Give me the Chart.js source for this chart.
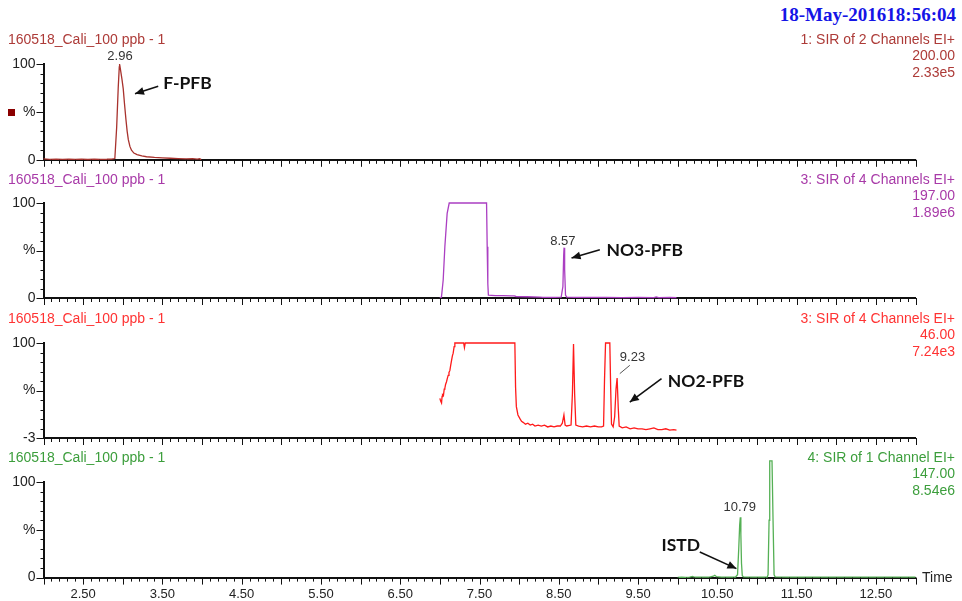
<!DOCTYPE html>
<html>
<head>
<meta charset="utf-8">
<script src="https://cdn.jsdelivr.net/npm/chart.js@4.4.0/dist/chart.umd.min.js"></script>
<style>
body { margin:0; background:#fff; width:962px; height:601px; overflow:hidden; position:relative; font-family:"Liberation Sans", Arial, sans-serif; }
.panel { position:absolute; left:0; width:962px; }
.txt { position:absolute; font-size:14px; line-height:16.5px; white-space:nowrap; }
#stamp { position:absolute; right:6px; top:4px; font:bold 19px "Liberation Serif", serif; color:#1414e6; }
</style>
</head>
<body>
<div id="stamp">18-May-201618:56:04</div>
<script>
// retention time (min) / intensity (%) for each SIR channel
const rt1 = [2.00,2.08,2.16,2.24,2.32,2.40,2.48,2.56,2.64,2.72,2.80,2.86,2.90,2.923,2.943,2.956,2.96,2.975,2.99,3.006,3.02,3.04,3.055,3.07,3.09,3.11,3.14,3.18,3.24,3.30,3.40,3.50,3.60,3.70,3.80,3.88,3.94,3.97,3.99];
const int1 = [0.9,0.5,0.8,0.4,0.7,0.5,0.6,0.3,0.7,0.5,0.6,0.8,1.3,34,76,97,100,92,84,74,60,42,30,21,14,10,7,5.5,4,3.2,2.5,2,1.6,1.3,1.0,1.3,0.8,1.2,0.2];

const rt2 = [7.00,7.02,7.042,7.063,7.092,7.118,7.30,7.50,7.589,7.597,7.605,7.612,7.70,7.80,7.90,7.94,7.96,8.10,8.26,8.30,8.45,8.53,8.552,8.562,8.567,8.574,8.585,8.60,8.70,8.90,9.10,9.30,9.50,9.70,9.73,9.76,9.90,9.985];
const int2 = [0,1,19,54,89,100,100,100,100,54,15,3,2.5,2.4,2.3,2.2,1.6,1.3,1.0,0.7,0.6,0.8,12,45,53,30,3,1,0.7,0.6,0.7,0.5,0.6,0.5,1.2,0.5,0.6,0.3];

const rt3 = [7.000,7.010,7.021,7.028,7.034,7.045,7.055,7.063,7.072,7.084,7.095,7.105,7.115,7.126,7.137,7.147,7.158,7.168,7.180,7.189,7.30,7.31,7.32,7.946,7.955,7.965,7.985,8.01,8.03,8.05,8.08,8.11,8.14,8.17,8.20,8.24,8.28,8.32,8.36,8.40,8.44,8.48,8.52,8.545,8.565,8.58,8.60,8.655,8.672,8.686,8.700,8.715,8.75,8.80,8.85,8.90,8.95,9.00,9.04,9.065,9.077,9.09,9.144,9.155,9.165,9.186,9.205,9.222,9.236,9.250,9.262,9.30,9.35,9.40,9.45,9.50,9.55,9.60,9.65,9.70,9.75,9.80,9.85,9.90,9.95,9.985];
const int3 = [40,37,35,42,44,43,50,51,55,58,62,65,68,70,76,81,86,89,96,100,100,95,100,100,52,31,22,18,15,14,12,13,11,12,10,11,10,11,9,10,9,10,10,13,22,11,10,11,45,99,45,11,10,9,10,9,10,9,9,10,60,100,100,50,12,9,20,50,62,30,10,8,9,7,8,7,7,6,7,8,6,6,7,5.5,6,5.5];

const rt4 = [10.00,10.05,10.10,10.15,10.19,10.21,10.30,10.40,10.45,10.468,10.49,10.55,10.65,10.73,10.755,10.770,10.782,10.790,10.797,10.805,10.815,10.83,10.95,11.05,11.13,11.140,11.153,11.161,11.190,11.203,11.216,11.23,11.40,11.60,11.80,12.00,12.20,12.40,12.60,12.80,13.00];
const int4 = [0.3,0.4,0.3,0.5,1.2,0.4,0.5,0.5,1.5,2.5,1,0.5,0.5,0.6,3,30,55,63,45,15,2,0.7,0.6,0.5,0.6,3,60,122,122,60,3,0.8,0.6,0.5,0.6,0.5,0.6,0.5,0.5,0.6,0.5];

const xTickLabels = [2.5,3.5,4.5,5.5,6.5,7.5,8.5,9.5,10.5,11.5,12.5];
const yMins = [0, 0, -3, 0];
const yLabels = [['0','%','100'], ['0','%','100'], ['-3','%','100'], ['0','%','100']];
const channels = ['1: SIR of 2 Channels EI+', '3: SIR of 4 Channels EI+', '3: SIR of 4 Channels EI+', '4: SIR of 1 Channel EI+'];
const masses = ['200.00', '197.00', '46.00', '147.00'];
const tics = ['2.33e5', '1.89e6', '7.24e3', '8.54e6'];
const sampleName = '160518_Cali_100 ppb - 1';

const panels = [
  { rt: rt1, val: int1, line: '#a8322d', text: '#ad3b38', top: 63.5, bottom: 159.3,
    notes: [
      { text: '2.96', x: 2.965, y: 107.8 },
      { arrow: [3.447, 76.8, 3.154, 68.9] },
      { tag: 'F-PFB', x: 3.511, y: 79.6 }
    ] },
  { rt: rt2, val: int2, line: '#ab3fc2', text: '#a83aa8', top: 203.3, bottom: 298.3,
    notes: [
      { text: '8.57', x: 8.551, y: 59.6 },
      { arrow: [9.018, 50.8, 8.661, 42.1] },
      { tag: 'NO3-PFB', x: 9.102, y: 50.1 }
    ] },
  { rt: rt3, val: int3, line: '#ff1a1a', text: '#ff3333', top: 342.7, bottom: 437.7,
    notes: [
      { text: '9.23', x: 9.43, y: 84.2 },
      { lead: [9.396, 75.8, 9.27, 66.8] },
      { arrow: [9.796, 61.4, 9.396, 36.0] },
      { tag: 'NO2-PFB', x: 9.875, y: 58.5 }
    ] },
  { rt: rt4, val: int4, line: '#55b055', text: '#3c9e3c', top: 481.7, bottom: 577.3,
    notes: [
      { text: '10.79', x: 10.783, y: 73.2 },
      { arrow: [10.279, 26.8, 10.741, 9.4] },
      { tag: 'ISTD', x: 9.796, y: 33.8 }
    ] }
];

const addText = (str, css) => {
  let d = document.createElement('div');
  d.className = 'txt';
  d.innerHTML = str;
  Object.assign(d.style, css);
  document.body.appendChild(d);
};

// axis tick marks (minor every 0.1 min / 10 %)
const tickMarks = (yMin) => ({
  id: 'tickMarks',
  afterDraw(chart) {
    const {ctx, chartArea: a, scales: {x, y}} = chart;
    ctx.save();
    ctx.strokeStyle = '#111';
    ctx.lineWidth = 1;
    ctx.beginPath();
    for (let i = 20; i <= 130; i++) {
      let px = Math.round(x.getPixelForValue(i / 10)) + 0.5;
      let len = i % 5 === 0 ? 7 : 4;
      ctx.moveTo(px, a.bottom);
      ctx.lineTo(px, a.bottom + len);
    }
    for (let k = 0; k <= 10; k++) {
      let py = Math.round(y.getPixelForValue(yMin + k * (100 - yMin) / 10)) + 0.5;
      let len = k % 5 === 0 ? 7 : 3;
      ctx.moveTo(a.left, py);
      ctx.lineTo(a.left - len, py);
    }
    ctx.stroke();
    ctx.restore();
  }
});

const drawArrow = (ctx, x1, y1, x2, y2, head) => {
  ctx.beginPath();
  ctx.moveTo(x1, y1);
  ctx.lineTo(x2, y2);
  ctx.stroke();
  if (!head) return;
  let ang = Math.atan2(y2 - y1, x2 - x1);
  ctx.beginPath();
  ctx.moveTo(x2, y2);
  ctx.lineTo(x2 - 9 * Math.cos(ang) + 4 * Math.sin(ang), y2 - 9 * Math.sin(ang) - 4 * Math.cos(ang));
  ctx.lineTo(x2 - 9 * Math.cos(ang) - 4 * Math.sin(ang), y2 - 9 * Math.sin(ang) + 4 * Math.cos(ang));
  ctx.closePath();
  ctx.fill();
};

const notesPlugin = (items) => ({
  id: 'notes',
  afterDatasetsDraw(chart) {
    const {ctx, scales: {x, y}} = chart;
    ctx.save();
    ctx.textBaseline = 'middle';
    items.forEach(n => {
      if (n.text) {
        ctx.font = '13px "Liberation Sans", Arial';
        ctx.fillStyle = '#333';
        ctx.textAlign = 'center';
        ctx.fillText(n.text, x.getPixelForValue(n.x), y.getPixelForValue(n.y));
      }
      if (n.tag) {
        ctx.font = 'bold 17.5px Lato, "Open Sans"';
        ctx.fillStyle = '#111';
        ctx.textAlign = 'left';
        ctx.fillText(n.tag, x.getPixelForValue(n.x), y.getPixelForValue(n.y));
      }
      let seg = n.arrow || n.lead;
      if (seg) {
        ctx.strokeStyle = n.arrow ? '#111' : '#555';
        ctx.fillStyle = '#111';
        ctx.lineWidth = n.arrow ? 1.6 : 1;
        drawArrow(ctx, x.getPixelForValue(seg[0]), y.getPixelForValue(seg[1]),
          x.getPixelForValue(seg[2]), y.getPixelForValue(seg[3]), !!n.arrow);
      }
    });
    ctx.restore();
  }
});

panels.forEach((p, i) => {
  const padTop = 28;
  const last = i === panels.length - 1;
  const xh = last ? 30 : 18;
  let box = document.createElement('div');
  box.className = 'panel';
  box.style.top = (p.top - padTop) + 'px';
  box.style.height = (p.bottom - p.top + padTop + xh) + 'px';
  let cv = document.createElement('canvas');
  box.appendChild(cv);
  document.body.appendChild(box);

  addText(sampleName, { left: '8px', top: (p.top - 24.5 - 8.25) + 'px', color: p.text });
  addText(channels[i] + '<br>' + masses[i] + '<br>' + tics[i],
    { right: '7px', top: (p.top - 24.5 - 8.25) + 'px', color: p.text, textAlign: 'right' });

  const yMin = yMins[i];
  const yMid = (yMin + 100) / 2;

  new Chart(cv, {
    type: 'line',
    data: {
      datasets: [{
        data: p.rt.map((t, k) => ({ x: t, y: p.val[k] })),
        borderColor: p.line,
        borderWidth: 1.3,
        pointRadius: 0,
        tension: 0,
        clip: false
      }]
    },
    options: {
      responsive: true,
      maintainAspectRatio: false,
      animation: false,
      events: [],
      layout: { padding: { top: padTop, right: 46.5, left: 0, bottom: 0 } },
      plugins: { legend: { display: false }, tooltip: { enabled: false } },
      scales: {
        x: {
          type: 'linear', min: 2, max: 13,
          grid: { display: false, drawTicks: false },
          border: { display: true, color: '#111', width: 2 },
          afterBuildTicks: s => { s.ticks = xTickLabels.map(v => ({ value: v })); },
          afterFit: s => { s.height = xh; },
          ticks: {
            display: last, autoSkip: false, maxRotation: 0, padding: 9,
            color: '#222', font: { size: 13, family: '"Liberation Sans", Arial' },
            callback: v => Number(v).toFixed(2)
          }
        },
        y: {
          min: yMin, max: 100,
          grid: { display: false, drawTicks: false },
          border: { display: true, color: '#111', width: 2 },
          afterBuildTicks: s => { s.ticks = [yMin, yMid, 100].map(v => ({ value: v })); },
          afterFit: s => { s.width = 43.5; },
          ticks: {
            padding: 8, color: '#222', font: { size: 14, family: '"Liberation Sans", Arial' },
            callback: v => v === 100 ? yLabels[i][2] : (v === yMin ? yLabels[i][0] : yLabels[i][1])
          }
        }
      }
    },
    plugins: [tickMarks(yMin), notesPlugin(p.notes)]
  });
});

// small channel marker and time axis label
let mark = document.createElement('div');
Object.assign(mark.style, { position: 'absolute', left: '8px', top: '108.5px', width: '7px', height: '7px', background: '#8b0000' });
document.body.appendChild(mark);
addText('Time', { left: '922px', top: (577.3 - 8.25) + 'px', color: '#222' });
</script>
</body>
</html>
